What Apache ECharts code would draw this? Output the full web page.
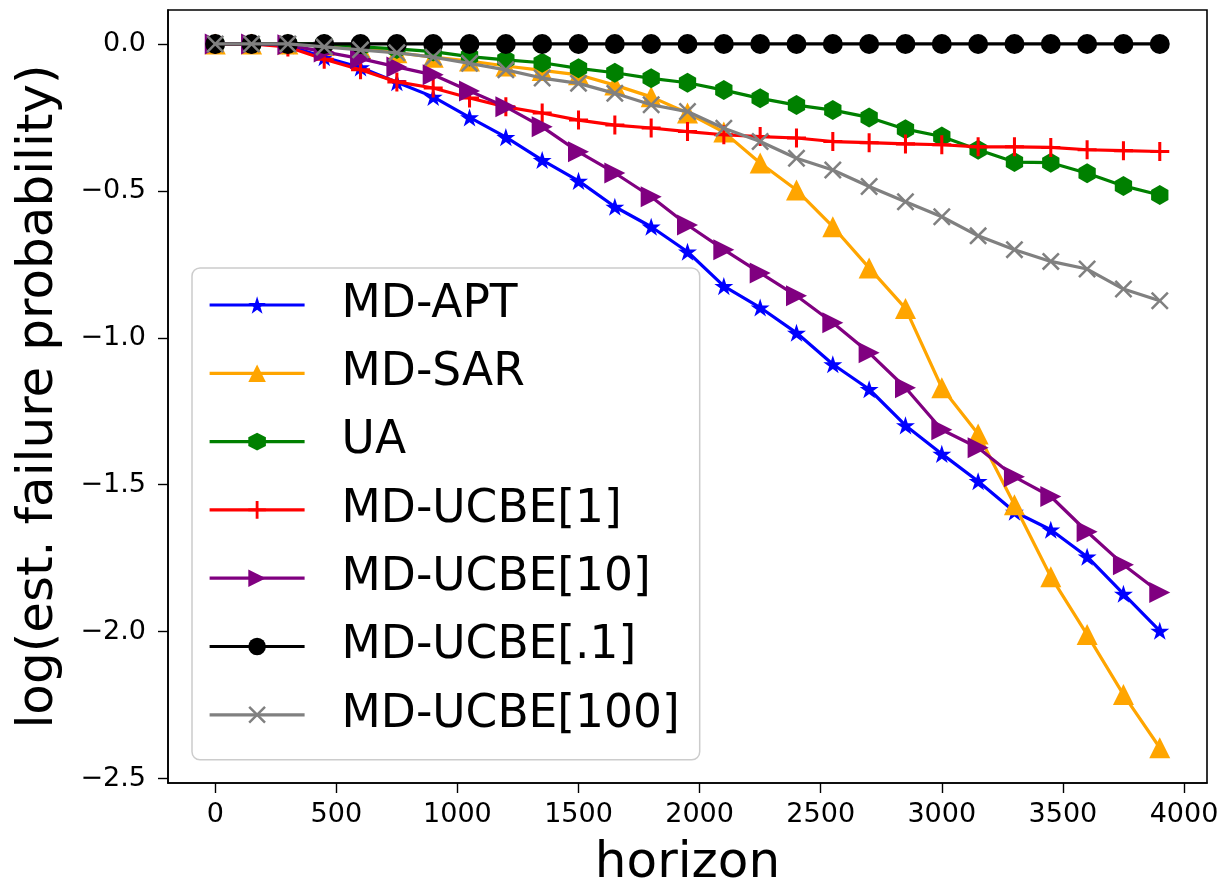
<!DOCTYPE html>
<html>
<head>
<meta charset="utf-8">
<script src="https://cdn.jsdelivr.net/npm/echarts@6/dist/echarts.min.js"></script>
<style>
html,body{margin:0;padding:0;background:#fff;}
#chart{width:1231px;height:891px;}
</style>
</head>
<body>
<div id="chart"></div>
<script>
const horizon = [0,150,300,450,600,750,900,1050,1200,1350,1500,1650,1800,1950,2100,2250,2400,2550,2700,2850,3000,3150,3300,3450,3600,3750,3900];
const mdApt = [0,0,-0.005,-0.045,-0.08,-0.13,-0.18,-0.25,-0.317,-0.395,-0.466,-0.554,-0.622,-0.707,-0.824,-0.897,-0.983,-1.09,-1.175,-1.298,-1.395,-1.488,-1.592,-1.653,-1.745,-1.871,-1.997];
const mdSar = [0,0,0,-0.005,-0.015,-0.03,-0.045,-0.058,-0.075,-0.09,-0.105,-0.14,-0.18,-0.235,-0.30,-0.405,-0.497,-0.622,-0.762,-0.90,-1.17,-1.327,-1.568,-1.813,-2.01,-2.214,-2.395];
const ua = [0,0,0,0,-0.01,-0.017,-0.026,-0.043,-0.054,-0.064,-0.083,-0.098,-0.117,-0.132,-0.157,-0.185,-0.208,-0.225,-0.25,-0.29,-0.315,-0.36,-0.402,-0.404,-0.44,-0.483,-0.514];
const ucbe1 = [0,0,-0.01,-0.052,-0.088,-0.129,-0.15,-0.184,-0.214,-0.235,-0.259,-0.276,-0.286,-0.298,-0.309,-0.315,-0.32,-0.332,-0.336,-0.34,-0.343,-0.35,-0.35,-0.352,-0.36,-0.363,-0.366];
const ucbe10 = [0,0,-0.003,-0.027,-0.05,-0.078,-0.105,-0.16,-0.214,-0.282,-0.367,-0.439,-0.52,-0.616,-0.70,-0.779,-0.857,-0.949,-1.051,-1.17,-1.313,-1.374,-1.473,-1.54,-1.66,-1.772,-1.867];
const ucbe01 = [0,0,0,0,0,0,0,0,0,0,0,0,0,0,0,0,0,0,0,0,0,0,0,0,0,0,0];
const ucbe100 = [0,0,0,-0.01,-0.02,-0.03,-0.045,-0.066,-0.088,-0.116,-0.134,-0.168,-0.207,-0.23,-0.287,-0.332,-0.389,-0.429,-0.485,-0.537,-0.588,-0.653,-0.70,-0.74,-0.766,-0.834,-0.874];
const seriesNames = ['MD-APT','MD-SAR','UA','MD-UCBE[1]','MD-UCBE[10]','MD-UCBE[.1]','MD-UCBE[100]'];
const xTicks = [0,500,1000,1500,2000,2500,3000,3500,4000];
const yTicks = [-2.5,-2.0,-1.5,-1.0,-0.5,0.0];

// symbol shapes
function starPath(){
  let d = '';
  for (let i = 0; i < 10; i++) {
    const r = (i % 2 === 0) ? 50 : 50 * 0.381966;
    const a = -Math.PI / 2 + i * Math.PI / 5;
    const x = 50 + r * Math.cos(a), y = 50 + r * Math.sin(a);
    d += (i === 0 ? 'M' : 'L') + x.toFixed(2) + ' ' + y.toFixed(2) + ' ';
  }
  return 'path://' + d + 'Z';
}
const STAR = starPath();
const HEX = 'path://M50 0 L93.3 25 L93.3 75 L50 100 L6.7 75 L6.7 25 Z';
const PLUS = 'path://M42 0 H58 V42 H100 V58 H58 V100 H42 V58 H0 V42 H42 Z';
const XMARK = 'path://M0 10 L10 0 L50 40 L90 0 L100 10 L60 50 L100 90 L90 100 L50 60 L10 100 L0 90 L40 50 Z';
const TRI_UP = 'path://M50 0 L100 100 L0 100 Z';
const TRI_RIGHT = 'path://M0 0 L100 50 L0 100 Z';

const FONT = 'DejaVu Sans';
const styles = [
  {color:'#0000ff', symbol: STAR, size: 19},
  {color:'#ffa500', symbol: TRI_UP, size: 21},
  {color:'#008000', symbol: HEX, size: 20},
  {color:'#ff0000', symbol: PLUS, size: 19},
  {color:'#800080', symbol: TRI_RIGHT, size: 21},
  {color:'#000000', symbol: 'circle', size: 20},
  {color:'#808080', symbol: XMARK, size: 18}
];
const values = [mdApt, mdSar, ua, ucbe1, ucbe10, ucbe01, ucbe100];

const series = seriesNames.map((name, i) => ({
  name: name,
  type: 'line',
  data: horizon.map((h, j) => [h, values[i][j]]),
  symbol: styles[i].symbol,
  symbolSize: styles[i].size,
  symbolKeepAspect: true,
  showAllSymbol: true,
  lineStyle: {color: styles[i].color, width: 3.2},
  itemStyle: {color: styles[i].color, opacity: 1},
  emphasis: {disabled: true},
  z: 2 + i * 0.01
}));

const chart = echarts.init(document.getElementById('chart'), null, {renderer: 'canvas'});
chart.setOption({
  animation: false,
  backgroundColor: '#ffffff',
  grid: {
    left: 168, right: 24, top: 10, bottom: 108,
    show: true, borderColor: '#000', borderWidth: 1.6,
    containLabel: false, outerBoundsMode: 'none'
  },
  xAxis: {
    type: 'value', min: -195, max: 4095,
    name: 'horizon', nameLocation: 'middle', nameGap: 56,
    nameTextStyle: {fontFamily: FONT, fontSize: 50, color: '#000'},
    axisLine: {show: true, onZero: false, lineStyle: {color: '#000', width: 1.6}},
    axisTick: {show: true, inside: false, length: 10, lineStyle: {color: '#000', width: 1.4}, customValues: xTicks},
    axisLabel: {show: true, margin: 18, fontFamily: FONT, fontSize: 27, color: '#000', customValues: xTicks,
      formatter: v => String(v)},
    splitLine: {show: false}
  },
  yAxis: {
    type: 'value', min: -2.515, max: 0.1156,
    name: 'log(est. failure probability)', nameLocation: 'middle', nameGap: 104, nameRotate: 90,
    nameTextStyle: {fontFamily: FONT, fontSize: 50, color: '#000'},
    axisLine: {show: true, onZero: false, lineStyle: {color: '#000', width: 1.6}},
    axisTick: {show: true, inside: false, length: 10, lineStyle: {color: '#000', width: 1.4}, customValues: yTicks},
    axisLabel: {show: true, margin: 22, fontFamily: FONT, fontSize: 27, color: '#000', customValues: yTicks,
      formatter: v => (Math.abs(v) < 1e-9 ? '0.0' : v.toFixed(1).replace('-', '\u2212'))},
    splitLine: {show: false}
  },
  legend: {
    show: true,
    orient: 'vertical',
    left: 192, top: 268,
    data: seriesNames,
    itemWidth: 95, itemHeight: 22, itemGap: 18.3,
    padding: [12, 20, 20, 16],
    backgroundColor: 'rgba(255,255,255,0.8)',
    borderColor: '#cccccc', borderWidth: 1.5, borderRadius: 8,
    lineStyle: {width: 3.2},
    textStyle: {fontFamily: FONT, fontSize: 45.5, lineHeight: 50, color: '#000', padding: [0, 0, 0, 32]},
    selectedMode: false
  },
  series: series
});
</script>
</body>
</html>
